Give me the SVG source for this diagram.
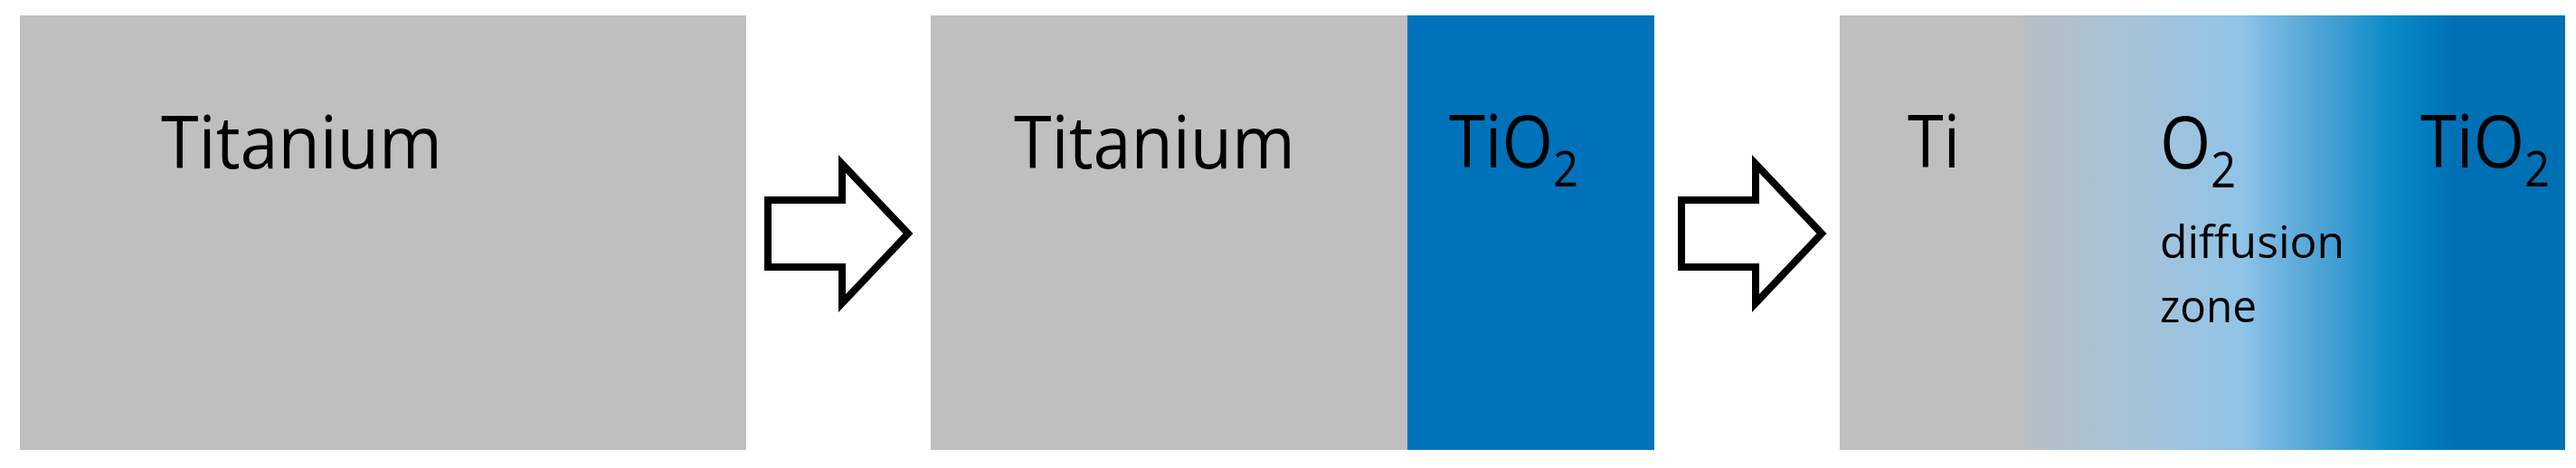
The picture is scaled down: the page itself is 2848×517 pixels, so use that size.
<svg xmlns="http://www.w3.org/2000/svg" width="2848" height="517" viewBox="0 0 2848 517">
<style>
.lbl{font-family:"Open Sans","Liberation Sans",sans-serif;font-size:80px;fill:#000}
.sm{font-family:"Open Sans","Liberation Sans",sans-serif;font-size:50px;fill:#000}
.arr{fill:#fff;stroke:#000;stroke-width:8;stroke-linejoin:miter;stroke-miterlimit:10}
</style>
<defs>
<linearGradient id="diff" x1="0" y1="0" x2="1" y2="0">
<stop offset="0" stop-color="#bfbfbf"/>
<stop offset="0.246" stop-color="#bfbfbf"/>
<stop offset="0.266" stop-color="#b6bec6"/>
<stop offset="0.382" stop-color="#a9c3d4"/>
<stop offset="0.478" stop-color="#9cc3e0"/>
<stop offset="0.555" stop-color="#8fc4e7"/>
<stop offset="0.587" stop-color="#7ab9e3"/>
<stop offset="0.640" stop-color="#5aa9d8"/>
<stop offset="0.691" stop-color="#3d9cd2"/>
<stop offset="0.756" stop-color="#0b8cc7"/>
<stop offset="0.819" stop-color="#0079bd"/>
<stop offset="0.845" stop-color="#0070b5"/>
<stop offset="1" stop-color="#0070b5"/>
</linearGradient>
</defs>
<rect width="2848" height="517" fill="#fff"/>
<g id="stage1">
<rect x="22" y="17" width="803" height="480" fill="#bfbfbf"/>
<text class="lbl" x="178" y="186" textLength="311" lengthAdjust="spacingAndGlyphs">Titanium</text>
</g>
<g id="stage2">
<rect x="1029" y="17" width="527" height="480" fill="#bfbfbf"/>
<rect x="1556" y="17" width="273" height="480" fill="#0072b9"/>
<text class="lbl" x="1121" y="186" textLength="311" lengthAdjust="spacingAndGlyphs">Titanium</text>
<text class="lbl" x="1602" y="185" textLength="143" lengthAdjust="spacingAndGlyphs">TiO<tspan font-size="54" dy="21">2</tspan></text>
</g>
<g id="stage3">
<rect x="2034" y="17" width="802" height="480" fill="url(#diff)"/>
<text class="lbl" x="2109" y="185" textLength="58" lengthAdjust="spacingAndGlyphs">Ti</text>
<text class="lbl" x="2388" y="186" textLength="84" lengthAdjust="spacingAndGlyphs">O<tspan font-size="54" dy="21">2</tspan></text>
<text class="sm" x="2388" y="285" textLength="204" lengthAdjust="spacingAndGlyphs">diffusion</text>
<text class="sm" x="2388" y="356" textLength="107" lengthAdjust="spacingAndGlyphs">zone</text>
<text class="lbl" x="2676" y="185" textLength="143" lengthAdjust="spacingAndGlyphs">TiO<tspan font-size="54" dy="21">2</tspan></text>
</g>
<g id="connectors">
<path class="arr" d="M849,221 H931 V181 L1004,258 L931,335 V295 H849 Z"/>
<path class="arr" d="M1859,221 H1941 V181 L2014,258 L1941,335 V295 H1859 Z"/>
</g>
</svg>
